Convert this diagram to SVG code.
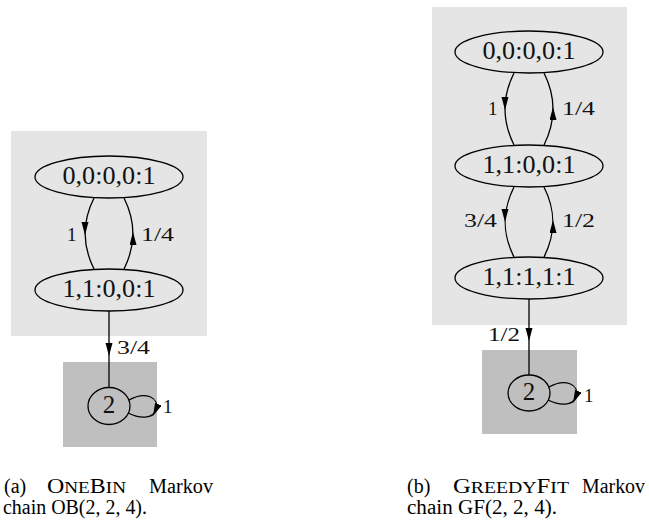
<svg xmlns="http://www.w3.org/2000/svg" width="649" height="525" viewBox="0 0 649 525">
<style>
  .bgl{fill:#e5e5e5}
  .bgd{fill:#bfbfbf}
  .node ellipse{fill:none;stroke:#000;stroke-width:1.3}
  .nl{font-family:"Liberation Serif","DejaVu Serif",serif;font-size:25px;text-anchor:middle;fill:#111}
  .el{font-family:"Liberation Serif","DejaVu Serif",serif;font-size:19px;fill:#111}
  .edge{fill:none;stroke:#000;stroke-width:1.3}
  .ah{fill:none;stroke:none;marker-end:url(#arr)}
  .cap{font-family:"Liberation Serif","Times New Roman",serif;font-size:20px;fill:#000}
  .sc{font-size:16px}
</style>
<defs>
  <marker id="arr" markerUnits="userSpaceOnUse" markerWidth="14" markerHeight="8" refX="13" refY="3.5" orient="auto">
    <path d="M0,0 L13,3.5 L0,7 Z" fill="#000"/>
  </marker>
</defs>

<!-- Panel (a) backgrounds -->
<rect class="bgl" x="11" y="131" width="196" height="205"/>
<rect class="bgd" x="63" y="362" width="94" height="85"/>
<!-- Panel (b) backgrounds -->
<rect class="bgl" x="432" y="7" width="195" height="318"/>
<rect class="bgd" x="482" y="350" width="95" height="84"/>

<g id="connectors">
  <!-- panel a -->
  <path class="edge" d="M94,198 C82,222 82,245 94,269"/>
  <path class="ah" d="M85,224 L85,235"/>
  <path class="edge" d="M124,269 C136,245 136,222 124,198"/>
  <path class="ah" d="M133,243 L133,232"/>
  <path class="edge" d="M109,311 L109,388"/>
  <path class="ah" d="M109,344 L109,356"/>
  <path class="edge" d="M129,400 C145,391 160,397 156,410 C153,419 140,419 128,413"/>
  <path class="ah" d="M157,407 L153,416"/>
  <text class="el" x="67" y="241">1</text>
  <text class="el" x="141" y="241" textLength="33" lengthAdjust="spacingAndGlyphs">1/4</text>
  <text class="el" x="117" y="354" textLength="33" lengthAdjust="spacingAndGlyphs">3/4</text>
  <text class="el" x="163" y="413">1</text>

  <!-- panel b -->
  <path class="edge" d="M514,73 C502,97 502,121 514,145"/>
  <path class="ah" d="M505,99 L505,110"/>
  <path class="edge" d="M544,145 C556,121 556,97 544,73"/>
  <path class="ah" d="M553,118 L553,107"/>
  <path class="edge" d="M514,187 C502,211 502,233 514,257"/>
  <path class="ah" d="M505,211 L505,222"/>
  <path class="edge" d="M544,257 C556,233 556,211 544,187"/>
  <path class="ah" d="M553,231 L553,220"/>
  <path class="edge" d="M529,299 L529,375"/>
  <path class="ah" d="M529,329 L529,341"/>
  <path class="edge" d="M549,387 C565,378 580,384 576,397 C573,406 560,406 548,400"/>
  <path class="ah" d="M577,394 L573,403"/>
  <text class="el" x="488" y="115">1</text>
  <text class="el" x="562" y="115" textLength="33" lengthAdjust="spacingAndGlyphs">1/4</text>
  <text class="el" x="464" y="227" textLength="33" lengthAdjust="spacingAndGlyphs">3/4</text>
  <text class="el" x="562" y="227" textLength="33" lengthAdjust="spacingAndGlyphs">1/2</text>
  <text class="el" x="488" y="341" textLength="32" lengthAdjust="spacingAndGlyphs">1/2</text>
  <text class="el" x="584" y="402">1</text>
</g>

<!-- Panel (a) nodes -->
<g id="a_s0" class="node">
  <ellipse cx="109" cy="177" rx="74" ry="21"/>
  <text class="nl" x="109" y="184" textLength="93" lengthAdjust="spacingAndGlyphs">0,0:0,0:1</text>
</g>
<g id="a_s1" class="node">
  <ellipse cx="109" cy="290" rx="74" ry="21"/>
  <text class="nl" x="109" y="297" textLength="93" lengthAdjust="spacingAndGlyphs">1,1:0,0:1</text>
</g>
<g id="a_s2" class="node">
  <ellipse cx="109" cy="406" rx="21" ry="18.5"/>
  <text class="nl" x="109" y="413">2</text>
</g>

<!-- Panel (b) nodes -->
<g id="b_s0" class="node">
  <ellipse cx="529" cy="52" rx="74" ry="21"/>
  <text class="nl" x="529" y="59" textLength="93" lengthAdjust="spacingAndGlyphs">0,0:0,0:1</text>
</g>
<g id="b_s1" class="node">
  <ellipse cx="529" cy="166" rx="74" ry="21"/>
  <text class="nl" x="529" y="173" textLength="93" lengthAdjust="spacingAndGlyphs">1,1:0,0:1</text>
</g>
<g id="b_s2" class="node">
  <ellipse cx="529" cy="278" rx="74" ry="21"/>
  <text class="nl" x="529" y="285" textLength="93" lengthAdjust="spacingAndGlyphs">1,1:1,1:1</text>
</g>
<g id="b_s3" class="node">
  <ellipse cx="529" cy="393" rx="21" ry="18"/>
  <text class="nl" x="529" y="400">2</text>
</g>

<!-- Captions -->
<g id="captions">
  <text class="cap" x="4" y="493">(a)</text>
  <text class="cap" x="47" y="493" textLength="79" lengthAdjust="spacingAndGlyphs">O<tspan class="sc">NE</tspan>B<tspan class="sc">IN</tspan></text>
  <text class="cap" x="149" y="493" textLength="64" lengthAdjust="spacingAndGlyphs">Markov</text>
  <text class="cap" x="3" y="514" textLength="144" lengthAdjust="spacingAndGlyphs">chain OB(2, 2, 4).</text>

  <text class="cap" x="407" y="493">(b)</text>
  <text class="cap" x="453" y="493" textLength="116" lengthAdjust="spacingAndGlyphs">G<tspan class="sc">REEDY</tspan>F<tspan class="sc">IT</tspan></text>
  <text class="cap" x="582" y="493" textLength="63" lengthAdjust="spacingAndGlyphs">Markov</text>
  <text class="cap" x="407" y="514" textLength="150" lengthAdjust="spacingAndGlyphs">chain GF(2, 2, 4).</text>
</g>
</svg>
